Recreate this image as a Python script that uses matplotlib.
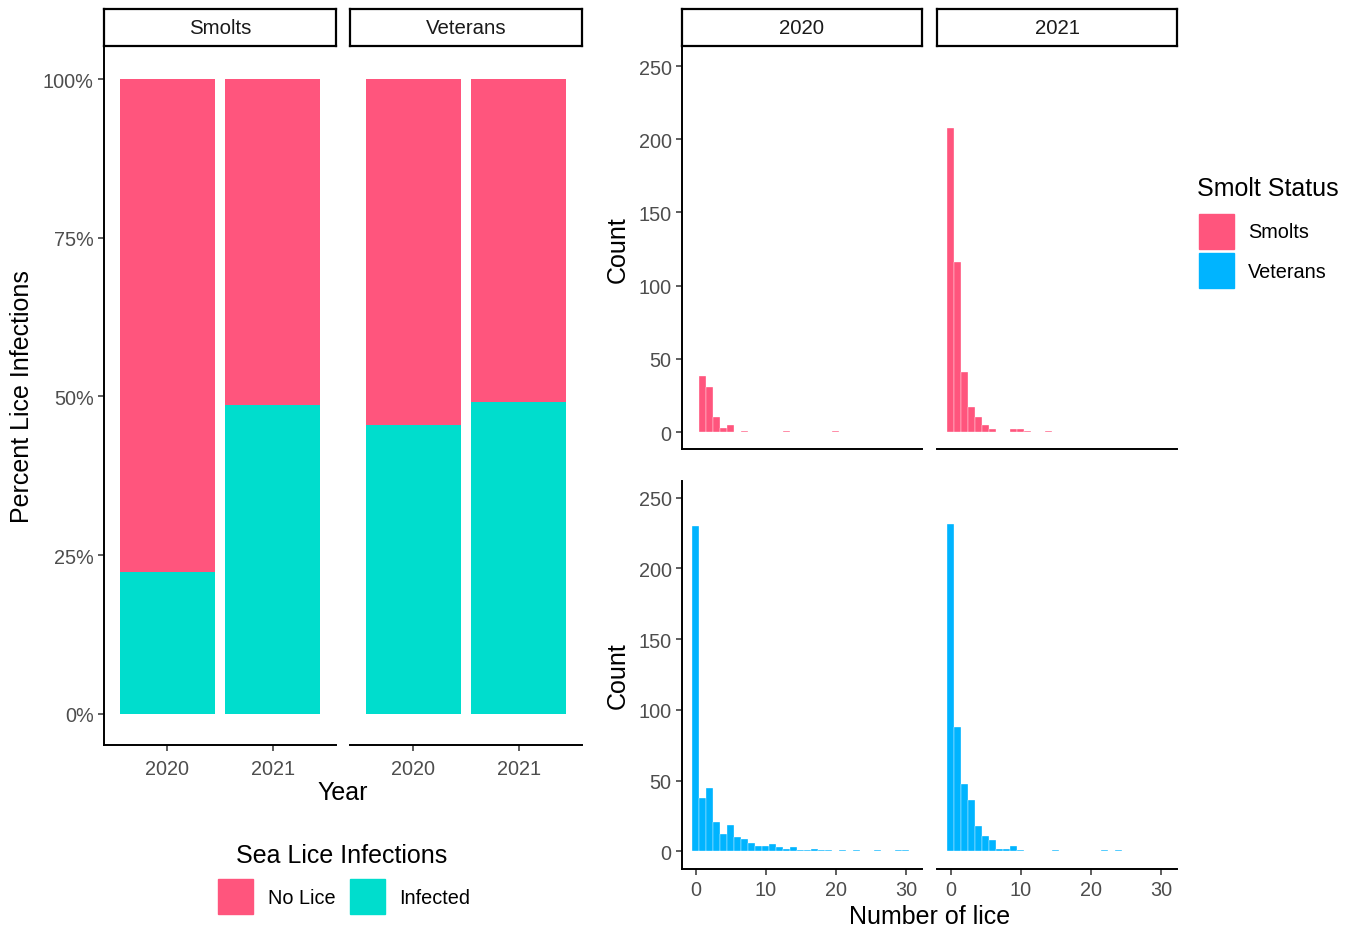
import matplotlib
matplotlib.use("Agg")
import matplotlib.pyplot as plt
from matplotlib.patches import Rectangle
import numpy as np

plt.rcParams['font.family'] = ['Liberation Sans', 'DejaVu Sans']

# ---- data ----
years = ['2020', '2021']
groups = ['Smolts', 'Veterans']
infected_pct = {'Smolts': [22.4, 48.7], 'Veterans': [45.5, 49.1]}

# lice counts per fish, bin = number of lice (0, 1, 2, ...)
smolts_2020 = [0, 38, 31, 10, 3, 5, 0, 1, 0, 0, 0, 0, 0, 1, 0, 0, 0, 0, 0, 0, 1]
smolts_2021 = [208, 116, 41, 17, 10, 5, 2, 0, 0, 2, 2, 1, 0, 0, 1]
veterans_2020 = [230, 38, 45, 21, 12, 19, 10, 9, 6, 4, 4, 5, 3, 2, 3, 1, 1, 2, 1, 1,
                 0, 1, 0, 1, 0, 0, 1, 0, 0, 1, 1]
veterans_2021 = [231, 88, 48, 36, 18, 11, 8, 2, 2, 4, 1, 0, 0, 0, 0, 1, 0, 0, 0, 0,
                 0, 0, 1, 0, 1]

pink = '#FF557D'
teal = '#00DDCD'
blue = '#00B4FF'
grey = '#4D4D4D'

W, H = 1352, 928
fig = plt.figure(figsize=(W / 100, H / 100), dpi=100)


def box(x0, y0, x1, y1):
    return [x0 / W, 1 - y1 / H, (x1 - x0) / W, (y1 - y0) / H]


def strip(x0, x1, label):
    ax = fig.add_axes(box(x0, 10, x1, 47))
    ax.set_xticks([]); ax.set_yticks([])
    for s in ax.spines.values():
        s.set_linewidth(1.6)
    ax.text(0.5, 0.5, label, ha='center', va='center', fontsize=14.7,
            color='#1A1A1A', transform=ax.transAxes)


def style(ax, left=True, bottom=True):
    for s in ['top', 'right']:
        ax.spines[s].set_visible(False)
    ax.spines['left'].set_visible(left)
    ax.spines['bottom'].set_visible(bottom)
    for s in ['left', 'bottom']:
        ax.spines[s].set_linewidth(1.4)
    ax.tick_params(colors='#333333', labelcolor=grey, labelsize=14.3,
                   length=4, width=1.1)


# ---- left: percent stacked bars ----
for i, (g, x0, x1) in enumerate([('Smolts', 104, 336), ('Veterans', 350, 582)]):
    ax = fig.add_axes(box(x0, 47, x1, 746))
    xs = np.arange(1, 3)
    inf = np.array(infected_pct[g])
    ax.bar(xs, inf, width=0.9, color=teal)
    ax.bar(xs, 100 - inf, bottom=inf, width=0.9, color=pink)
    ax.set_xlim(0.4, 2.6)
    ax.set_ylim(-4.9, 105.2)
    ax.set_xticks(xs)
    ax.set_xticklabels(years)
    style(ax, left=(i == 0))
    if i == 0:
        ax.set_yticks([0, 25, 50, 75, 100])
        ax.set_yticklabels(['0%', '25%', '50%', '75%', '100%'])
    else:
        ax.tick_params(axis='y', left=False, labelleft=False)
    ax.tick_params(axis='x', pad=6)
    strip(x0, x1, g)

fig.text(343 / W, 1 - 793 / H, 'Year', ha='center', va='center', fontsize=18)
fig.text(22 / W, 1 - 397 / H, 'Percent Lice Infections', ha='center', va='center',
         fontsize=18, rotation=90)

# legend: Sea Lice Infections
fig.text(342 / W, 1 - 856 / H, 'Sea Lice Infections', ha='center', va='center', fontsize=18)
for kx, lx, col, lab in [(218, 268, pink, 'No Lice'), (350, 399, teal, 'Infected')]:
    fig.patches.append(Rectangle((kx / W, 1 - 915 / H), 35 / W, 35 / H, color=col,
                                 transform=fig.transFigure))
    fig.text(lx / W, 1 - 899 / H, lab, ha='left', va='center', fontsize=14.3)

# ---- right: histograms ----
hists = [[smolts_2020, smolts_2021], [veterans_2020, veterans_2021]]
cols = [pink, blue]
rows_y = [(47, 450), (482, 870)]
cols_x = [(682, 922), (937, 1177)]
ylims = [(-11.6, 263.7), (-12.4, 261.7)]
for r in range(2):
    for c in range(2):
        x0, x1 = cols_x[c]
        y0, y1 = rows_y[r]
        ax = fig.add_axes(box(x0, y0, x1, y1))
        counts = hists[r][c]
        ax.bar(np.arange(len(counts)), counts, width=1.0, color=cols[r],
               edgecolor='white', linewidth=0.25)
        ax.set_xlim(-2, 32.3)
        ax.set_ylim(*ylims[r])
        style(ax, left=(c == 0))
        ax.set_yticks([0, 50, 100, 150, 200, 250])
        if c != 0:
            ax.tick_params(axis='y', left=False, labelleft=False)
        if r == 0:
            ax.tick_params(axis='x', bottom=False, labelbottom=False)
            strip(x0, x1, years[c])
        else:
            ax.set_xticks([0, 10, 20, 30])
            ax.tick_params(axis='x', pad=4)

fig.text(618 / W, 1 - 250 / H, 'Count', ha='center', va='center', fontsize=18, rotation=90)
fig.text(618 / W, 1 - 676 / H, 'Count', ha='center', va='center', fontsize=18, rotation=90)
fig.text(930 / W, 1 - 917 / H, 'Number of lice', ha='center', va='center', fontsize=18)

# legend: Smolt Status
fig.text(1197 / W, 1 - 189 / H, 'Smolt Status', ha='left', va='center', fontsize=18)
for ky, col, lab in [(215, pink, 'Smolts'), (254, blue, 'Veterans')]:
    fig.patches.append(Rectangle((1199 / W, 1 - (ky + 35) / H), 35 / W, 35 / H, color=col,
                                 transform=fig.transFigure))
    fig.text(1248 / W, 1 - (ky + 18) / H, lab, ha='left', va='center', fontsize=14.3)

fig.savefig('out.png', dpi=100)
